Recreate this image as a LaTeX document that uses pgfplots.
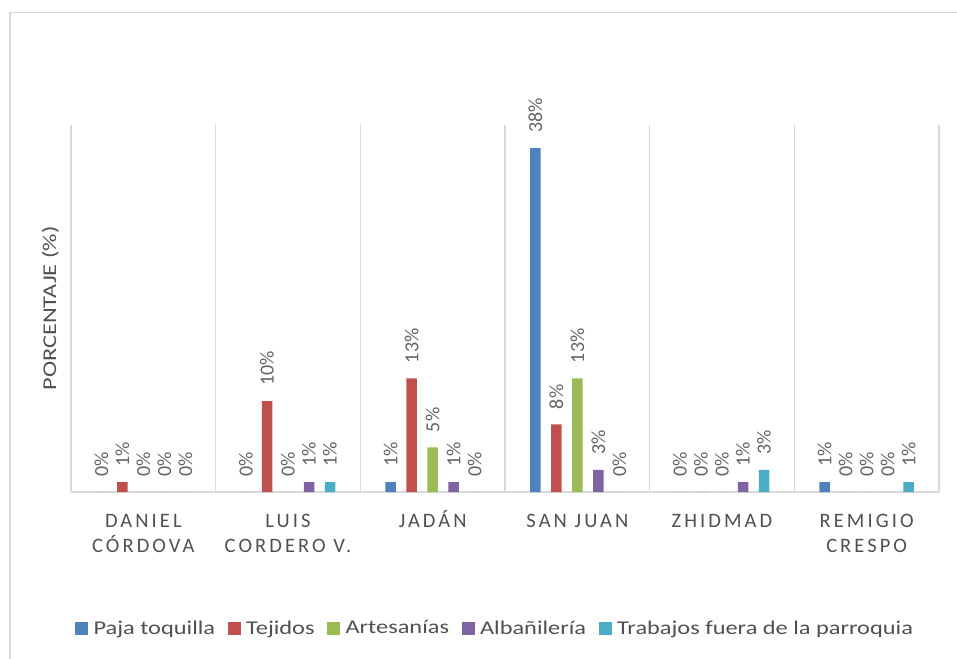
\documentclass[border=0pt]{standalone}
\usepackage{fontspec}
\setmainfont{Carlito}
\newfontfamily\wide[FakeStretch=1.25]{Carlito}
\newfontfamily\spaced[LetterSpace=15]{Carlito}
\usepackage{pgfplots}
\usepackage{pgfplotstable}
\pgfplotsset{compat=1.18}
\definecolor{cblue}{RGB}{79,129,189}
\definecolor{cred}{RGB}{192,80,77}
\definecolor{cgreen}{RGB}{155,187,89}
\definecolor{cpurple}{RGB}{128,100,162}
\definecolor{caqua}{RGB}{75,172,198}
\definecolor{gridgray}{RGB}{217,217,217}
\definecolor{textgray}{RGB}{80,80,80}
\definecolor{labgray}{RGB}{100,100,100}

% x: 0 Daniel Cordova, 1 Luis Cordero V., 2 Jadan, 3 San Juan, 4 Zhidmad, 5 Remigio Crespo
\pgfplotstableread{
x y lab
0 0 0
1 0 0
2 1.1 1
3 38.0 38
4 0 0
5 1.1 1
}\paja
\pgfplotstableread{
x y lab
0 1.1 1
1 10.05 10
2 12.56 13
3 7.48 8
4 0 0
5 0 0
}\tejidos
\pgfplotstableread{
x y lab
0 0 0
1 0 0
2 4.94 5
3 12.56 13
4 0 0
5 0 0
}\artes
\pgfplotstableread{
x y lab
0 0 0
1 1.1 1
2 1.1 1
3 2.45 3
4 1.1 1
5 0 0
}\albanil
\pgfplotstableread{
x y lab
0 0 0
1 1.1 1
2 0 0
3 0 0
4 2.45 3
5 1.1 1
}\trabajos

\begin{document}
\begin{tikzpicture}
\useasboundingbox (-71pt,-166pt) rectangle (886pt,492pt);
\draw[gridgray,line width=1.5pt] (-61pt,-170pt) -- (-61pt,479.3pt) -- (890pt,479.3pt);
\begin{axis}[at={(0,0)},anchor=south west,
  scale only axis,width=868pt,height=367pt,
  ybar=10.5pt,bar width=10.5pt,
  xmin=-0.5,xmax=5.5,ymin=0,ymax=40.55,
  clip=false,
  axis line style={draw=none},
  ytick=\empty,
  xtick={0,...,5},
  xticklabels={{\strut DANIEL\\CÓRDOVA},{\strut LUIS\\CORDERO V.},{\strut JADÁN},{\strut SAN JUAN},{\strut ZHIDMAD},{\strut REMIGIO\\CRESPO}},
  xticklabel style={align=center,font=\spaced\fontsize{20.5}{25}\selectfont,text=textgray,yshift=-14pt},
  major tick length=0pt,minor tick length=0pt,
  minor xtick={-0.5,0.5,...,5.5},
  xminorgrids,
  minor grid style={draw=gridgray,line width=1.5pt},
  major grid style={draw=gridgray,line width=1.5pt},
  extra y ticks={0},extra y tick labels={},
  extra y tick style={grid=major},
  ylabel={PORCENTAJE (\%)},
  ylabel style={at={(axis description cs:-0.01728,0.5)},anchor=base,
    font=\wide\fontsize{19.5}{23}\selectfont,text=textgray},
  point meta=explicit symbolic,
  nodes near coords={\pgfplotspointmeta\%},
  every node near coord/.append style={rotate=90,anchor=west,inner xsep=15pt,inner ysep=1pt,
    font=\fontsize{20}{24}\selectfont,text=labgray},
  legend columns=-1,
  legend style={at={(axis description cs:0.4885,-0.3706)},anchor=center,draw=none,fill=none,
    font=\wide\fontsize{19.5}{24}\selectfont,text=textgray,
    /tikz/every odd column/.append style={column sep=3.5pt},
    /tikz/every even column/.append style={column sep=10.5pt}},
  legend image code/.code={\fill[#1] (0pt,-6.5pt) rectangle (13pt,6.5pt);},
]
\addplot[fill=cblue,draw=none] table[x=x,y=y,meta=lab] {\paja};
\addplot[fill=cred,draw=none] table[x=x,y=y,meta=lab] {\tejidos};
\addplot[fill=cgreen,draw=none] table[x=x,y=y,meta=lab] {\artes};
\addplot[fill=cpurple,draw=none] table[x=x,y=y,meta=lab] {\albanil};
\addplot[fill=caqua,draw=none] table[x=x,y=y,meta=lab] {\trabajos};
\legend{Paja toquilla,Tejidos,Artesanías,Albañilería,Trabajos fuera de la parroquia}
\end{axis}
\end{tikzpicture}
\end{document}
